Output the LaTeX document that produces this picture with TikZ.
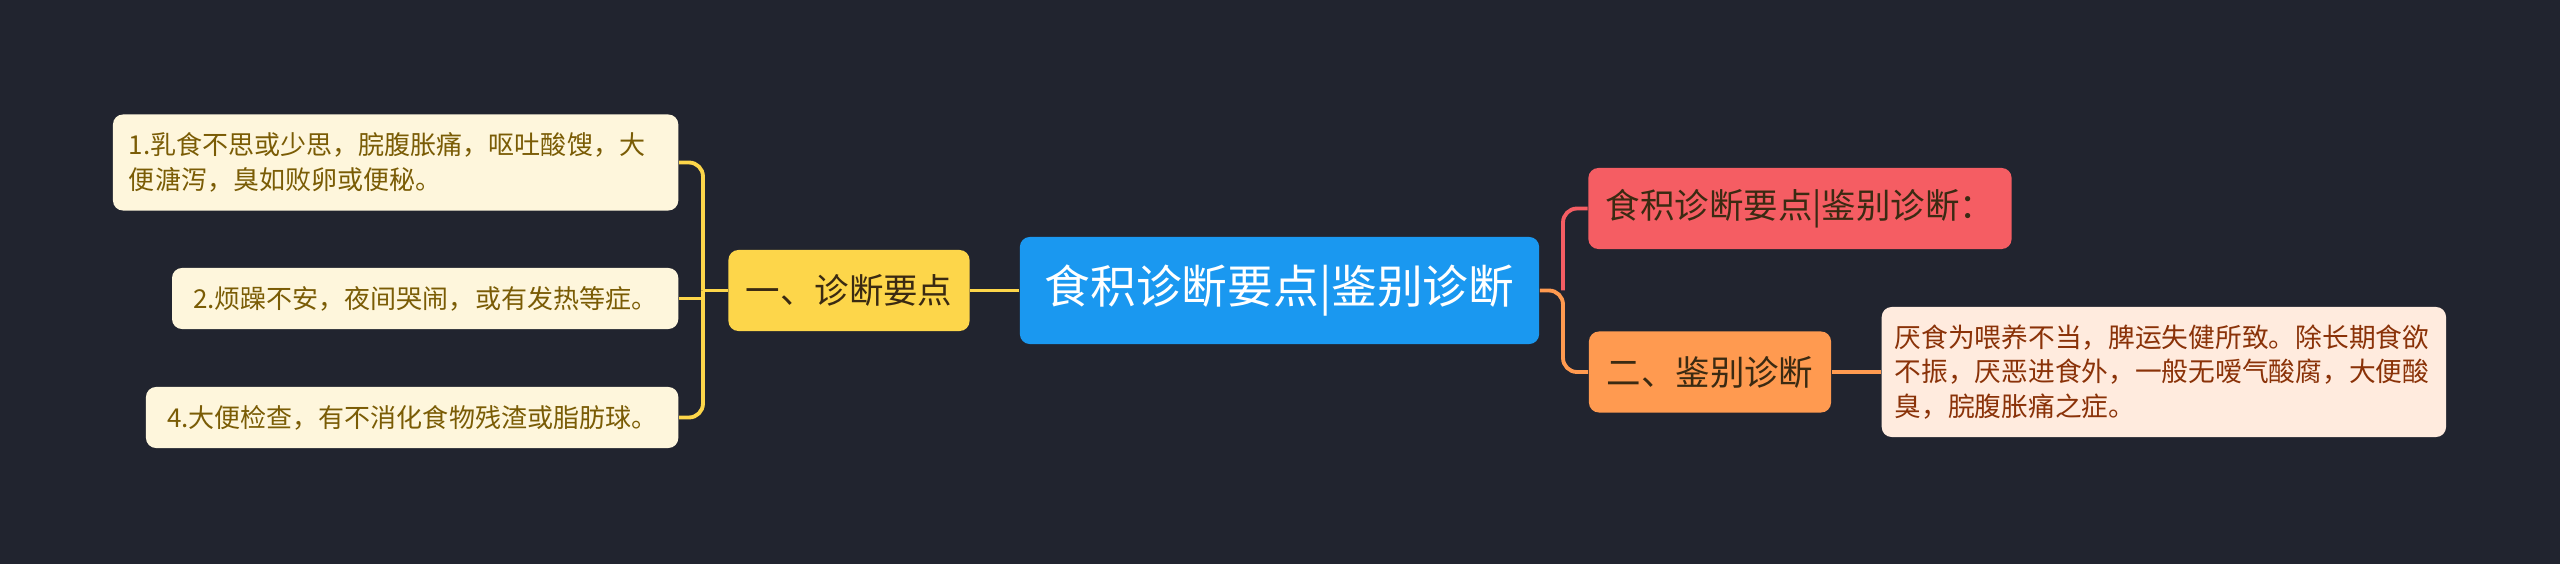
\documentclass[tikz,border=0pt]{standalone}
\usepackage{fontspec}
\setmainfont{Noto Sans CJK SC}
\usetikzlibrary{calc}

\definecolor{bgdark}{HTML}{21242F}
\definecolor{rootblue}{HTML}{1A98F0}
\definecolor{secyellow}{HTML}{FDD64A}
\definecolor{secred}{HTML}{F55D63}
\definecolor{secorange}{HTML}{FF9A50}
\definecolor{tipcream}{HTML}{FEF6DC}
\definecolor{tipolive}{HTML}{7A5C05}
\definecolor{tippeach}{HTML}{FFEBDE}
\definecolor{tipbrown}{HTML}{8A3208}
\definecolor{darktext}{HTML}{3A2A12}

\begin{document}
\begin{tikzpicture}[x = 0.01cm, y = -0.01cm,
    box/.style = {rounded corners = 0.1cm, inner sep = 0pt, align = center},
    tip/.style = {box, fill = tipcream, text = tipolive, minimum height = 0.61cm,
      font = \fontsize{7.4}{9.9}\selectfont},
    sec/.style = {box, minimum height = 0.81cm, text = darktext,
      font = \fontsize{9.8}{12}\selectfont},
    link/.style = {line width = 1.1pt, rounded corners = 0.14cm}]

        % background
        \fill[bgdark] (0, 0) rectangle (2560, 564);
        \useasboundingbox (0, 0) rectangle (2560, 564);

        % root
        \node[box, fill = rootblue, text = white, minimum width = 5.19cm, minimum height = 1.07cm,
          font = \fontsize{13}{15}\selectfont] (root) at (1279.5, 290.5) {食积诊断要点|鉴别诊断};

        % left branch
        \node[sec, fill = secyellow, minimum width = 2.41cm] (diag) at (849, 290.5) {一、诊断要点};

        \node[tip, anchor = east, align = left, text width = 5.33cm, inner xsep = 0.16cm,
          minimum height = 0.96cm] (tip1) at (679, 162.5)
          {1.乳食不思或少思，脘腹胀痛，呕吐酸馊，大\\便溏泻，臭如败卵或便秘。};
        \node[tip, anchor = east, minimum width = 5.06cm] (tip2) at (679, 298.5)
          {2.烦躁不安，夜间哭闹，或有发热等症。};
        \node[tip, anchor = east, minimum width = 5.32cm] (tip4) at (679, 417.5)
          {4.大便检查，有不消化食物残渣或脂肪球。};

        % right branch
        \node[sec, fill = secred, minimum width = 4.23cm] (title) at (1800, 208.5) {食积诊断要点|鉴别诊断：};
        \node[sec, fill = secorange, minimum width = 2.42cm] (diff) at (1710, 372) {二、鉴别诊断};
        \node[tip, fill = tippeach, text = tipbrown, anchor = west, align = left,
          text width = 5.38cm, inner xsep = 0.13cm, minimum height = 1.30cm,
          font = \fontsize{7.6}{9.7}\selectfont] (note) at (1881, 372)
          {厌食为喂养不当，脾运失健所致。除长期食欲\\不振，厌恶进食外，一般无嗳气酸腐，大便酸\\臭，脘腹胀痛之症。};

        % connectors
        \coordinate (lfork) at (703, 290.5);
        \coordinate (rfork) at (1563, 290.5);

        \draw[link, secyellow] (root.west) -- (diag.east);
        \draw[link, secyellow] (diag.west) -- (lfork);
        \draw[link, secyellow] (lfork) |- (tip1.east);
        \draw[link, secyellow] (lfork) |- (tip4.east);
        \draw[link, secyellow] (lfork |- tip2.east) -- (tip2.east);

        \draw[link, secred] (rfork) |- (title.west);
        \draw[link, secorange] (root.east) -- (rfork) |- (diff.west);
        \draw[link, secorange] (diff.east) -- (note.west);
\end{tikzpicture}
\end{document}
